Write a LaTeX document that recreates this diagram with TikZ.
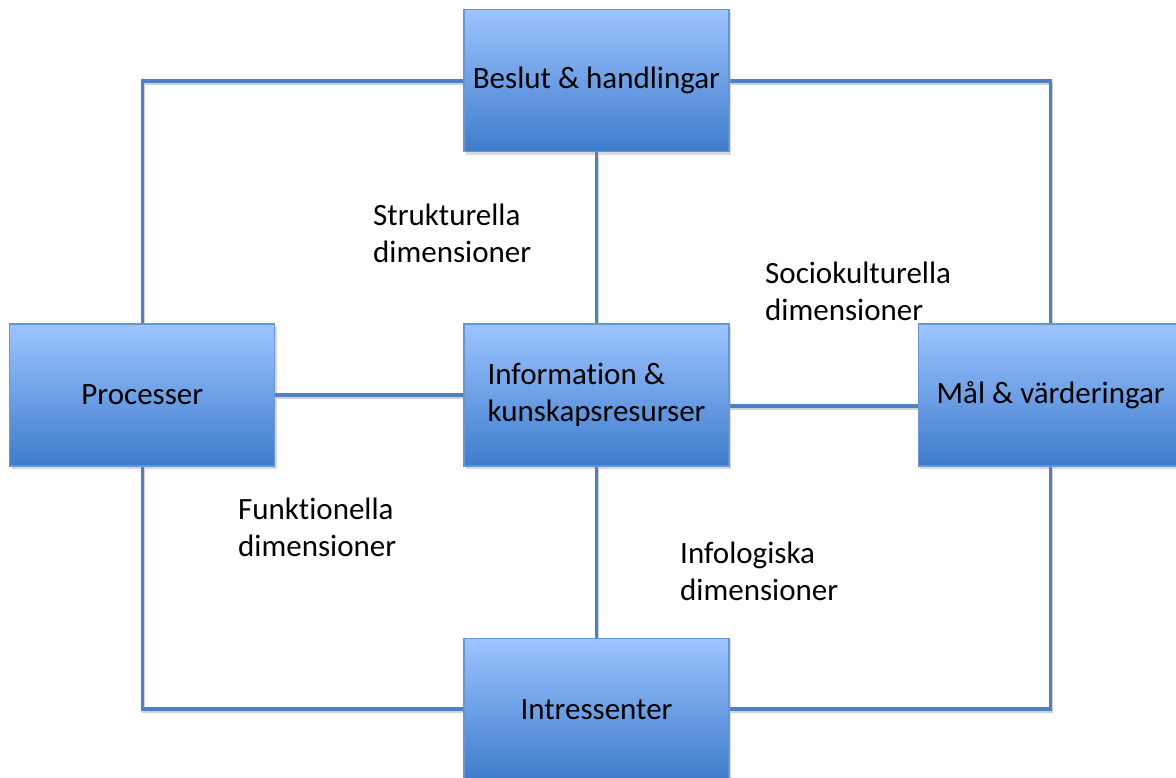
\documentclass[tikz,border=0pt]{standalone}
\usepackage{fontspec}
\setmainfont{Carlito}[Ligatures=NoCommon]
\usetikzlibrary{positioning, shadows, backgrounds}

\definecolor{boxtop}{RGB}{157,196,255}
\definecolor{boxmid}{RGB}{112,160,232}
\definecolor{boxbottom}{RGB}{62,124,203}
\definecolor{boxline}{RGB}{104,150,212}
\definecolor{linkblue}{RGB}{79,129,192}

\begin{document}
\begin{tikzpicture}[x=1pt, y=-1pt, font=\fontsize{31}{37}\selectfont,
	block/.style={draw=boxline, line width=1.2pt, rectangle, minimum width=265pt, minimum height=142pt,
		top color=boxtop, middle color=boxmid, bottom color=boxbottom, align=left,
		drop shadow={opacity=0.3, shadow xshift=2pt, shadow yshift=-3pt}},
	link/.style={draw=linkblue, line width=3.5pt,
		preaction={draw=black!18, line width=3.5pt, transform canvas={xshift=1pt, yshift=-2.5pt}}},
	dimlabel/.style={anchor=west, align=left, inner sep=0pt}]
	
	\useasboundingbox (0,0) rectangle (1176,778);
	
	% Define nodes
	\node [block] (info) at (596.5,395) {Information \&\\kunskapsresurser};
	\node [block, above=171pt of info] (beslut) {Beslut \& handlingar};
	\node [block, left=188pt of info] (processer) {Processer};
	\node [block, right=188pt of info] (mal) {Mål \& värderingar};
	\node [block, below=171pt of info] (intressenter) {Intressenter};
	
	% Dimension labels
	\node [dimlabel] (strukt) at (373,233.5) {Strukturella\\dimensioner};
	\node [dimlabel] (socio) at (765,291) {Sociokulturella\\dimensioner};
	\node [dimlabel] (funk) at (238,527) {Funktionella\\dimensioner};
	\node [dimlabel] (infolog) at (680,571.5) {Infologiska\\dimensioner};
	
	% Lines between blocks
	\begin{scope}[on background layer]
	\path [link] (beslut.west) -| (processer.north);
	\path [link] (beslut.east) -| (mal.north);
	\path [link] (processer.south) |- (intressenter.west);
	\path [link] (mal.south) |- (intressenter.east);
	\path [link] (beslut.south) -- (info.north);
	\path [link] (info.south) -- (intressenter.north);
	\path [link] (processer.east) -- (info.west);
	\path [link] ([yshift=-11pt]info.east) -- ([yshift=-11pt]mal.west);
	\end{scope}
	
\end{tikzpicture}
\end{document}
